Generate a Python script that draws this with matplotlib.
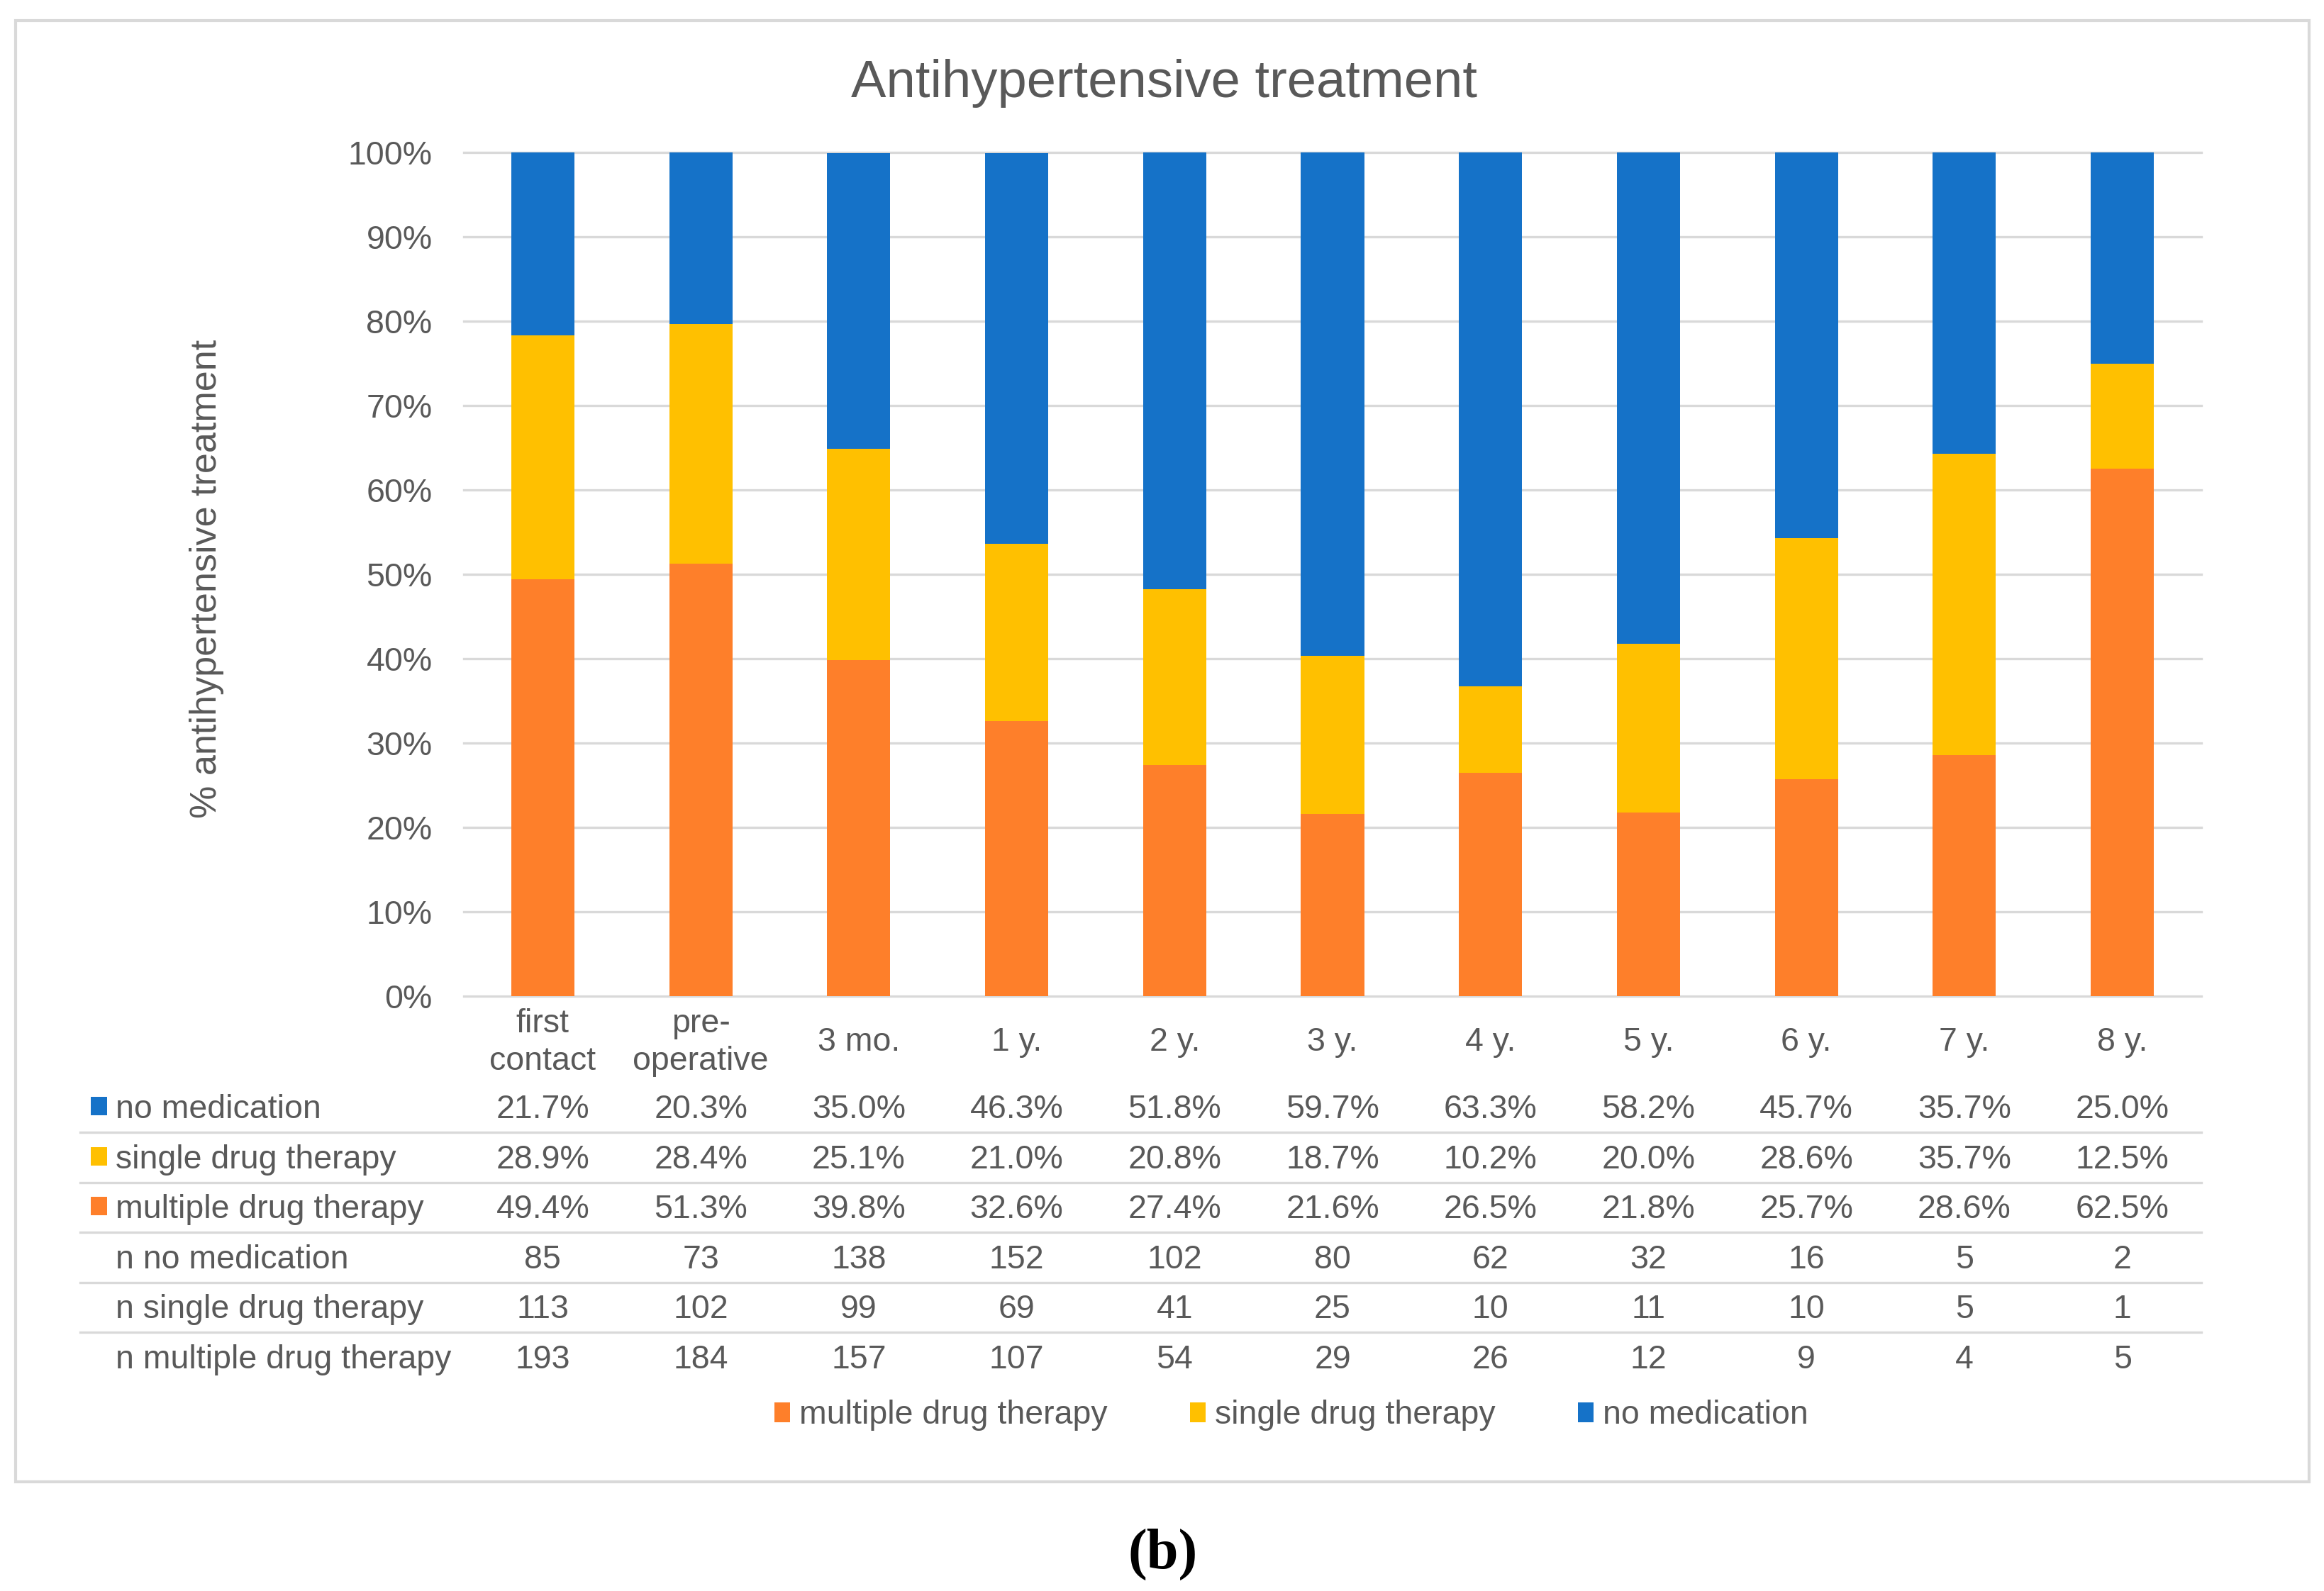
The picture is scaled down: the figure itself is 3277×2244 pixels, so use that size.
import matplotlib
matplotlib.use("Agg")
import matplotlib.pyplot as plt
import matplotlib.transforms as mtransforms
from matplotlib.patches import Rectangle
from matplotlib.lines import Line2D

# ---------------- data ----------------
categories = ["first\ncontact", "pre-\noperative", "3 mo.", "1 y.", "2 y.", "3 y.",
              "4 y.", "5 y.", "6 y.", "7 y.", "8 y."]
pct_no_medication = [21.7, 20.3, 35.0, 46.3, 51.8, 59.7, 63.3, 58.2, 45.7, 35.7, 25.0]
pct_single_drug = [28.9, 28.4, 25.1, 21.0, 20.8, 18.7, 10.2, 20.0, 28.6, 35.7, 12.5]
pct_multiple_drug = [49.4, 51.3, 39.8, 32.6, 27.4, 21.6, 26.5, 21.8, 25.7, 28.6, 62.5]
n_no_medication = [85, 73, 138, 152, 102, 80, 62, 32, 16, 5, 2]
n_single_drug = [113, 102, 99, 69, 41, 25, 10, 11, 10, 5, 1]
n_multiple_drug = [193, 184, 157, 107, 54, 29, 26, 12, 9, 4, 5]
y_ticks = [0, 10, 20, 30, 40, 50, 60, 70, 80, 90, 100]

# ---------------- style ----------------
C_BLUE = "#1572C8"
C_YELLOW = "#FFC000"
C_ORANGE = "#FE7F2A"
C_TEXT = "#595959"
C_GRID = "#D9D9D9"
FONT = ["Liberation Sans", "DejaVu Sans"]
FS = 33.5

plt.rcParams["font.family"] = FONT

W, H = 3277, 2244
fig = plt.figure(figsize=(W / 100, H / 100), dpi=100)


def fx(px):
    return px / W


def fy(py):
    return 1 - py / H


# plot area in pixels
L, R, T, B = 654, 3104, 215, 1405
ax = fig.add_axes([fx(L), fy(B), fx(R - L), (B - T) / H])

x = list(range(len(categories)))
bw = 0.4
bottom2 = [a + b for a, b in zip(pct_multiple_drug, pct_single_drug)]
b_multi = ax.bar(x, pct_multiple_drug, width=bw, color=C_ORANGE, label="multiple drug therapy", zorder=3)
b_single = ax.bar(x, pct_single_drug, width=bw, bottom=pct_multiple_drug, color=C_YELLOW,
                  label="single drug therapy", zorder=3)
b_none = ax.bar(x, pct_no_medication, width=bw, bottom=bottom2, color=C_BLUE,
                label="no medication", zorder=3)

ax.set_xlim(-0.5, len(categories) - 0.5)
ax.set_ylim(0, 100)
ax.set_yticks(y_ticks)
ax.set_yticklabels([f"{v}%" for v in y_ticks], fontsize=FS, color=C_TEXT)
ax.yaxis.grid(True, color=C_GRID, linewidth=2.4, zorder=0)
for gl in ax.get_ygridlines():
    gl.set_clip_on(False)
ax.set_axisbelow(True)
for s in ax.spines.values():
    s.set_visible(False)
ax.tick_params(axis="y", length=0, pad=32)

ax.set_xticks(x)
ax.set_xticklabels(categories, fontsize=FS, color=C_TEXT, va="center", linespacing=1.25)
ax.tick_params(axis="x", length=0, pad=47)

# title
fig.text(fx(1641), fy(137), "Antihypertensive treatment", fontsize=53.5, color=C_TEXT,
         ha="center", va="baseline")
# y label
fig.text(fx(305), fy(816), "% antihypertensive treatment", fontsize=37.5, color=C_TEXT,
         rotation=90, rotation_mode="anchor", ha="center", va="baseline")

# ---------------- data table ----------------
trans = mtransforms.blended_transform_factory(ax.transData, fig.transFigure)
rows = [
    ("no medication", [f"{v:.1f}%" for v in pct_no_medication], C_BLUE),
    ("single drug therapy", [f"{v:.1f}%" for v in pct_single_drug], C_YELLOW),
    ("multiple drug therapy", [f"{v:.1f}%" for v in pct_multiple_drug], C_ORANGE),
    ("n no medication", [str(v) for v in n_no_medication], None),
    ("n single drug therapy", [str(v) for v in n_single_drug], None),
    ("n multiple drug therapy", [str(v) for v in n_multiple_drug], None),
]
baselines = [1577, 1648, 1718, 1789, 1859, 1930]
for (label, vals, col), bl in zip(rows, baselines):
    fig.text(fx(163), fy(bl), label, fontsize=FS, color=C_TEXT, ha="left", va="baseline")
    if col is not None:
        fig.patches.append(Rectangle((fx(128), fy(bl - 4)), fx(23), 26 / H, transform=fig.transFigure,
                                     facecolor=col, edgecolor="none"))
    for xi, v in zip(x, vals):
        ax.text(xi, fy(bl), v, transform=trans, fontsize=FS, color=C_TEXT, ha="center", va="baseline")

for ly in [1597, 1668, 1738, 1809, 1879]:
    fig.add_artist(Line2D([fx(113), fx(R)], [fy(ly), fy(ly)], transform=fig.transFigure,
                          color=C_GRID, linewidth=2.4))

# ---------------- legend ----------------
leg = fig.legend(handles=[b_multi, b_single, b_none],
                 labels=["multiple drug therapy", "single drug therapy", "no medication"],
                 loc="center", bbox_to_anchor=(fx(1821), fy(1996)), ncol=3, frameon=False,
                 fontsize=FS, handlelength=0.47, handleheight=0.55, handletextpad=0.28,
                 columnspacing=2.5, borderpad=0, borderaxespad=0)
for t in leg.get_texts():
    t.set_color(C_TEXT)

# outer border
fig.patches.append(Rectangle((fx(22), fy(2090)), fx(3256 - 22), (2090 - 29) / H, transform=fig.transFigure,
                             facecolor="none", edgecolor=C_GRID, linewidth=3))

# panel label
fig.text(fx(1640), fy(2212), "(b)", fontsize=58, fontweight="bold", color="black",
         family=["Liberation Serif", "DejaVu Serif"], ha="center", va="baseline")

fig.savefig("out.png", dpi=100)
